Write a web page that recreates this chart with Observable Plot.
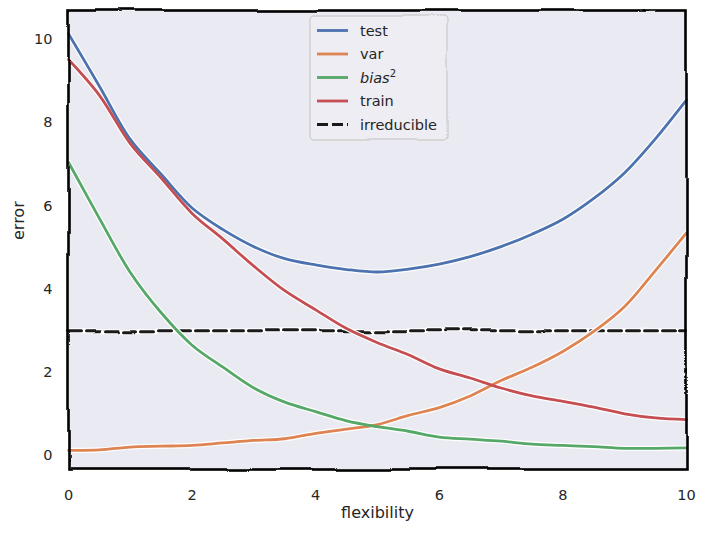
<!DOCTYPE html>
<html>
<head>
<meta charset="utf-8">
<script src="https://cdn.jsdelivr.net/npm/d3@7"></script>
<script src="https://cdn.jsdelivr.net/npm/@observablehq/plot@0.6"></script>
<style>
  body { margin: 0; background: #ffffff; }
  #chart { width: 708px; height: 536px; }
</style>
</head>
<body>
<div id="chart"></div>
<script>
// Bias–variance trade-off: error against model flexibility
const flexibility = [0, 0.5, 1, 1.5, 2, 2.5, 3, 3.5, 4, 4.5, 5, 5.5, 6, 6.5, 7, 7.5, 8, 8.5, 9, 9.5, 10];
const testError  = [10.14, 8.88, 7.6, 6.76, 5.95, 5.43, 5.02, 4.73, 4.58, 4.47, 4.41, 4.48, 4.6, 4.78, 5.02, 5.32, 5.68, 6.18, 6.8, 7.62, 8.55];
const varError   = [0.12, 0.13, 0.2, 0.22, 0.24, 0.3, 0.36, 0.4, 0.53, 0.63, 0.74, 0.96, 1.15, 1.43, 1.8, 2.12, 2.5, 2.98, 3.58, 4.45, 5.35];
const biasSq     = [7.05, 5.7, 4.4, 3.43, 2.65, 2.12, 1.62, 1.28, 1.05, 0.83, 0.69, 0.58, 0.44, 0.39, 0.34, 0.27, 0.24, 0.21, 0.17, 0.17, 0.18];
const trainError = [9.52, 8.66, 7.5, 6.67, 5.82, 5.2, 4.55, 3.96, 3.5, 3.05, 2.71, 2.42, 2.08, 1.86, 1.62, 1.43, 1.3, 1.16, 1.0, 0.9, 0.86];
const irreducibleX = [0, 10];
const irreducible  = [3, 3];

const seriesNames  = ["test", "var", "bias²", "train", "irreducible"];
const seriesColors = ["#4C72B0", "#DD8452", "#55A868", "#C44E52", "#1a1a1a"];
const xTicks = [0, 2, 4, 6, 8, 10];
const yTicks = [0, 2, 4, 6, 8, 10];

const curves = [testError, varError, biasSq, trainError];
const rows = [];
curves.forEach((vals, i) => vals.forEach((v, j) => rows.push({series: seriesNames[i], x: flexibility[j], y: v})));
const irrRows = irreducibleX.map((x, j) => ({series: "irreducible", x, y: irreducible[j]}));

const plot = Plot.plot({
  width: 708,
  height: 536,
  marginLeft: 68,
  marginRight: 22,
  marginTop: 10,
  marginBottom: 67,
  style: {background: "#ffffff", fontFamily: "DejaVu Sans, sans-serif", fontSize: "14.5px", color: "#262626"},
  x: {domain: [0, 10], ticks: xTicks, tickSize: 0, tickPadding: 20, label: null},
  y: {domain: [-0.34, 10.7], ticks: yTicks, tickSize: 0, tickPadding: 16, label: null},
  color: {domain: seriesNames, range: seriesColors},
  marks: [
    Plot.frame({fill: "#EAEAF2"}),
    // dashed irreducible-error level (white halo + dashes)
    Plot.line(irrRows, {x: "x", y: "y", stroke: "#ffffff", strokeWidth: 5}),
    Plot.line(irrRows, {x: "x", y: "y", stroke: "series", strokeWidth: 3, strokeDasharray: "13,5"}),
    // error curves with a white outline
    Plot.line(rows, {x: "x", y: "y", z: "series", stroke: "#ffffff", strokeWidth: 5.2, curve: "catmull-rom"}),
    Plot.line(rows, {x: "x", y: "y", z: "series", stroke: "series", strokeWidth: 2.8, curve: "catmull-rom"}),
    Plot.frame({stroke: "#000000", strokeWidth: 2.6}),
    Plot.text(["error"], {frameAnchor: "left", dx: -50, rotate: -90, fontSize: 16, fill: "#262626"}),
    Plot.text(["flexibility"], {frameAnchor: "bottom", dy: 48, fontSize: 16, fill: "#262626"})
  ]
});

document.getElementById("chart").appendChild(plot);

// Hand-drawn wobble for the spines and the dashed reference line
const svg = d3.select(plot);
const defs = svg.insert("defs", ":first-child");
const filt = defs.append("filter")
  .attr("id", "wobble")
  .attr("filterUnits", "userSpaceOnUse")
  .attr("color-interpolation-filters", "sRGB")
  .attr("x", -20).attr("y", -20).attr("width", 760).attr("height", 580);
filt.append("feTurbulence")
  .attr("type", "fractalNoise").attr("baseFrequency", "0.012")
  .attr("numOctaves", 1).attr("seed", 7).attr("result", "noise");
filt.append("feDisplacementMap")
  .attr("in", "SourceGraphic").attr("in2", "noise")
  .attr("scale", 7).attr("xChannelSelector", "R").attr("yChannelSelector", "G")
  .attr("result", "shifted");
filt.append("feGaussianBlur").attr("in", "shifted").attr("stdDeviation", 0.45);

const frames = svg.selectAll('[aria-label="frame"]').nodes();
const lines = svg.selectAll('g[aria-label="line"]').nodes();
if (frames.length > 1) d3.select(frames[frames.length - 1]).attr("filter", "url(#wobble)");
if (lines.length > 1) { d3.select(lines[0]).attr("filter", "url(#wobble)"); d3.select(lines[1]).attr("filter", "url(#wobble)"); }

// Legend
const lg = svg.append("g").attr("transform", "translate(310,16)");
lg.append("rect")
  .attr("width", 137).attr("height", 124).attr("rx", 4)
  .attr("fill", "#EDEDF3").attr("stroke", "#cfcfcf").attr("stroke-width", 1.4)
  .attr("filter", "url(#wobble)");
seriesNames.forEach((name, i) => {
  const cy = 14.5 + i * 23.5;
  lg.append("line")
    .attr("x1", 7).attr("x2", 38).attr("y1", cy).attr("y2", cy)
    .attr("stroke", seriesColors[i]).attr("stroke-width", name === "irreducible" ? 3 : 2.8)
    .attr("stroke-dasharray", name === "irreducible" ? "11,4" : null);
  const t = lg.append("text")
    .attr("x", 50).attr("y", cy).attr("dy", "0.35em")
    .attr("text-anchor", "start")
    .attr("fill", "#262626").attr("font-size", "14.5px")
    .attr("font-family", "DejaVu Sans, sans-serif");
  if (name === "bias²") {
    t.append("tspan").attr("font-style", "italic").text("bias");
    t.append("tspan").attr("font-size", "10px").attr("dy", "-0.6em").text("2");
  } else {
    t.text(name);
  }
});
</script>
</body>
</html>
